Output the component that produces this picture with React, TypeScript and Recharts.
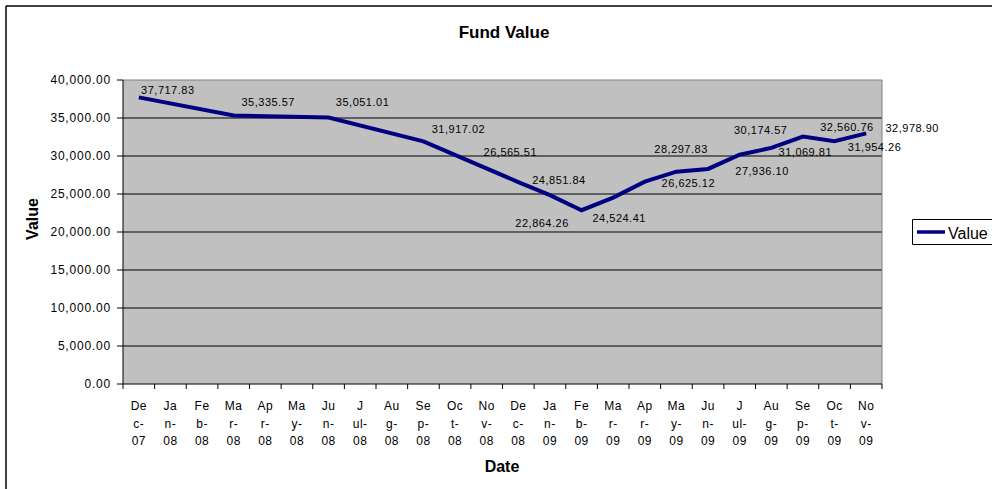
import { LineChart, Line, XAxis, YAxis, CartesianGrid, Customized } from 'recharts';

const MONTHS = [
  'Dec-07', 'Jan-08', 'Feb-08', 'Mar-08', 'Apr-08', 'May-08', 'Jun-08', 'Jul-08',
  'Aug-08', 'Sep-08', 'Oct-08', 'Nov-08', 'Dec-08', 'Jan-09', 'Feb-09', 'Mar-09',
  'Apr-09', 'May-09', 'Jun-09', 'Jul-09', 'Aug-09', 'Sep-09', 'Oct-09', 'Nov-09',
];

// quarterly through 2008, monthly from Dec-08
const FUND_VALUES: (number | null)[] = [
  37717.83, null, null, 35335.57, null, null, 35051.01, null,
  null, 31917.02, null, null, 26565.51, 24851.84, 22864.26, 24524.41,
  26625.12, 27936.1, 28297.83, 30174.57, 31069.81, 32560.76, 31954.26, 32978.9,
];

const Y_TICKS = [0, 5000, 10000, 15000, 20000, 25000, 30000, 35000, 40000];
const GRID_VALUES = [5000, 10000, 15000, 20000, 25000, 30000, 35000];
const SERIES_NAME = 'Value';

// where each data label was dragged to, relative to its point (label centre)
const LABEL_DX = [29, 0, 0, 34.5, 0, 0, 34, 0, 0, 35, 0, 0, -8, 9, -39.5, 6, 43.5, 85.6, -27, 21, 34, 44, 40, 46];
const LABEL_DY = [-7, 0, 0, -13, 0, 0, -16, 0, 0, -12.4, 0, 0, -29.7, -15, 13, 20.4, 1.8, -1, -20, -25, 4.5, -10, 5.5, -5];

const W = 992;
const H = 489;
const PLOT_LEFT = 123;
const PLOT_TOP = 80;
const PLOT_RIGHT = 882;
const PLOT_BOTTOM = 384;
const BAND = (PLOT_RIGHT - PLOT_LEFT) / MONTHS.length;
const FONT = 'Arial, "Liberation Sans", sans-serif';
const NAVY = '#000080';

const data = MONTHS.map((m, i) => ({ month: m, value: FUND_VALUES[i] }));

const fmt = (v: number) =>
  v.toLocaleString('en-US', { minimumFractionDigits: 2, maximumFractionDigits: 2 });

function splitMonth(label: string): string[] {
  const [mon, yr] = label.split('-');
  if (mon === 'Jul') return ['J', 'ul-', yr];
  return [mon.slice(0, 2), mon.slice(2) + '-', yr];
}

function MonthTick(props: any) {
  const { x, y, payload, index } = props;
  const lines = splitMonth(payload.value);
  const last = index === MONTHS.length - 1;
  return (
    <g>
      <line x1={x - BAND / 2} y1={y} x2={x - BAND / 2} y2={y + 5} stroke="#000" />
      {last && <line x1={x + BAND / 2} y1={y} x2={x + BAND / 2} y2={y + 5} stroke="#000" />}
      {lines.map((t, i) => (
        <text
          key={i}
          x={x}
          y={y + 26 + i * 17.5}
          textAnchor="middle"
          fontSize={12}
          fontFamily={FONT}
          fill="#000"
          letterSpacing={0.5}
        >
          {t}
        </text>
      ))}
    </g>
  );
}

function renderLabel(props: any) {
  const { x, y, value, index } = props;
  if (value == null || x == null || y == null) return null;
  return (
    <text
      key={`lbl-${index}`}
      x={x + LABEL_DX[index]}
      y={y + LABEL_DY[index]}
      textAnchor="middle"
      dominantBaseline="central"
      fontSize={11}
      fontFamily={FONT}
      letterSpacing={0.5}
      fill="#000"
    >
      {fmt(value)}
    </text>
  );
}

function Decor() {
  return (
    <g fontFamily={FONT}>
      <line x1={6} y1={6} x2={W} y2={6} stroke="#000" strokeWidth={1.5} />
      <line x1={6} y1={6} x2={6} y2={H} stroke="#000" strokeWidth={1.5} />
      <line x1={PLOT_LEFT} y1={PLOT_TOP} x2={PLOT_RIGHT} y2={PLOT_TOP} stroke="#808080" />
      <line x1={PLOT_RIGHT} y1={PLOT_TOP} x2={PLOT_RIGHT} y2={PLOT_BOTTOM} stroke="#808080" />
      <text x={504} y={37.5} textAnchor="middle" fontSize={17} fontWeight="bold" fill="#000">
        Fund Value
      </text>
      <text x={502} y={472} textAnchor="middle" fontSize={16} fontWeight="bold" fill="#000">
        Date
      </text>
      <text
        x={38}
        y={219}
        transform="rotate(-90 38 219)"
        textAnchor="middle"
        fontSize={16}
        fontWeight="bold"
        fill="#000"
      >
        Value
      </text>
      {/* legend */}
      <g transform="translate(912 219)">
        <line x1={0.5} y1={0.5} x2={80} y2={0.5} stroke="#000" />
        <line x1={0.5} y1={25.5} x2={80} y2={25.5} stroke="#000" />
        <line x1={0.5} y1={0.5} x2={0.5} y2={25.5} stroke="#000" />
        <line x1={5} y1={13} x2={33} y2={13} stroke={NAVY} strokeWidth={3.5} />
        <text x={36} y={19.5} fontSize={16} fill="#000">
          {SERIES_NAME}
        </text>
      </g>
    </g>
  );
}

export default function App() {
  return (
    <div style={{ position: 'absolute', left: 0, top: 0, width: W, height: H, background: '#fff' }}>
      <LineChart
        width={W}
        height={H}
        data={data}
        margin={{ top: PLOT_TOP, right: W - PLOT_RIGHT, bottom: 0, left: 0 }}
      >
        <CartesianGrid
          vertical={false}
          horizontalValues={GRID_VALUES}
          fill="#C0C0C0"
          fillOpacity={1}
          stroke="#000"
        />
        <XAxis
          dataKey="month"
          interval={0}
          height={H - PLOT_BOTTOM}
          padding={{ left: BAND / 2, right: BAND / 2 }}
          tickLine={false}
          tickSize={0}
          tickMargin={0}
          axisLine={{ stroke: '#000' }}
          tick={<MonthTick />}
        />
        <YAxis
          width={PLOT_LEFT}
          domain={[0, 40000]}
          ticks={Y_TICKS}
          interval={0}
          tickFormatter={fmt}
          tickSize={6}
          tickMargin={6}
          axisLine={{ stroke: '#000' }}
          tickLine={{ stroke: '#000' }}
          tick={{ fill: '#000', fontSize: 12, fontFamily: FONT, letterSpacing: 0.8 }}
        />
        <Line
          type="linear"
          dataKey="value"
          name={SERIES_NAME}
          stroke={NAVY}
          strokeWidth={4}
          dot={false}
          activeDot={false}
          connectNulls
          isAnimationActive={false}
          label={renderLabel}
        />
        <Customized component={Decor} />
      </LineChart>
    </div>
  );
}
